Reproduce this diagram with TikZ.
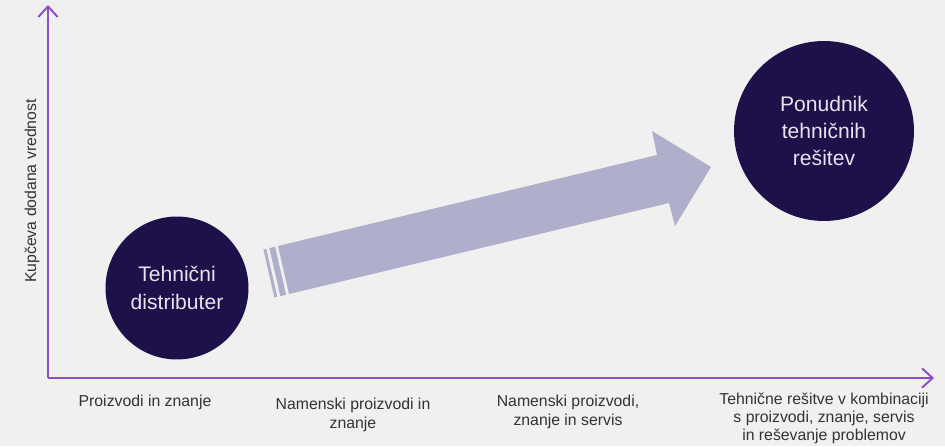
\documentclass[tikz,border=0pt]{standalone}
\usepackage{fontspec}
\setmainfont{Liberation Sans}
\usetikzlibrary{arrows.meta}

\definecolor{bgcol}{HTML}{F0F0F0}
\definecolor{axiscol}{HTML}{8A4FC8}
\definecolor{bubblecol}{HTML}{1E1048}
\definecolor{bubbletxt}{HTML}{E6E3EE}
\definecolor{arrowcol}{HTML}{AFAFCB}
\definecolor{txtcol}{HTML}{333333}

\tikzset{
  axis/.style={axiscol,line width=1.1pt,-{Straight Barb[length=6pt,width=11pt]}},
  bubble/.style={circle,fill=bubblecol,inner sep=0pt,align=center,text=bubbletxt,
    font=\fontsize{12}{15.5}\selectfont},
  lbl/.style={anchor=north,inner sep=0pt,align=center,text=txtcol,
    font=\fontsize{9}{10.7}\selectfont}
}

\begin{document}
\begin{tikzpicture}[x=0.02cm,y=-0.02cm]
\fill[bgcol] (0,0) rectangle (945,446);
\useasboundingbox (0,0) rectangle (945,446);

% axes
\coordinate (origin) at (48,378);
\coordinate (ytip) at (48,5);
\coordinate (xtip) at (934,378);
\draw[axis] (origin) -- (ytip);
\draw[axis] (origin) -- (xtip);

\node[rotate=90,inner sep=0pt,text=txtcol,font=\fontsize{9}{11}\selectfont] (ylabel) at (32,191) {Kup\v{c}eva dodana vrednost};

% big arrow
\fill[arrowcol] (278,246) -- (657,155) -- (652,131) -- (711,167) -- (675,226) -- (669,203) -- (289,294) -- cycle;
\fill[arrowcol] (275.1,246.7) -- (269.3,248.1) -- (280.3,296.1) -- (286.1,294.7) -- cycle;
\fill[arrowcol] (266.3,248.8) -- (263.4,249.5) -- (274.4,297.5) -- (277.3,296.8) -- cycle;

% circles
\node[bubble,minimum size=2.86cm] (distr) at (177,288) {Tehni\v{c}ni\\distributer};
\node[bubble,minimum size=3.6cm] (ponud) at (824,131) {Ponudnik\\tehni\v{c}nih\\re\v{s}itev};

% x labels
\node[lbl] (lab1) at (145,395) {Proizvodi in znanje};
\node[lbl] (lab2) at (353,398) {Namenski proizvodi in\\znanje};
\node[lbl] (lab3) at (568,395) {Namenski proizvodi,\\znanje in servis};
\node[lbl,font=\fontsize{9}{10.2}\selectfont] (lab4) at (824,393) {Tehni\v{c}ne re\v{s}itve v kombinaciji\\s proizvodi, znanje, servis\\in re\v{s}evanje problemov};

\end{tikzpicture}
\end{document}
